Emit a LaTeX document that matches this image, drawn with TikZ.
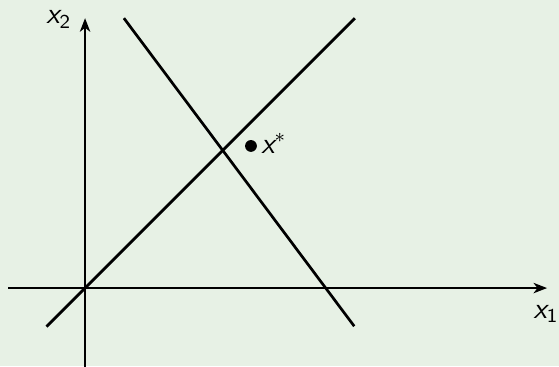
\documentclass[tikz,border=0pt]{standalone}
\usepackage{tikz}
\usetikzlibrary{arrows.meta, positioning}
\definecolor{blockbg}{RGB}{231,241,229}
\newcommand{\vx}[1]{{\sffamily\itshape x}\textsubscript{\sffamily #1}}
\tikzset{
    axis/.style={line width=0.85pt, -{Stealth[length=5.5pt, width=4.2pt, inset=1.6pt]}},
    constraint/.style={line width=1.1pt},
    axlabel/.style={font=\fontsize{12}{14}\selectfont, inner sep=1pt}
}

\begin{document}
\begin{tikzpicture}[x=0.5cm, y=0.5cm]

    % Background
    \fill[blockbg] (-2.43,-2.23) rectangle (13.54,8.23);
    \useasboundingbox (-2.43,-2.23) rectangle (13.54,8.23);

    % Axes
    \coordinate (origin) at (0,0);
    \coordinate (xstart) at (-2.2,0);
    \coordinate (xend) at (13.2,0);
    \coordinate (ystart) at (0,-2.3);
    \coordinate (yend) at (0,7.71);
    \draw[axis] (xstart) -- (xend);
    \draw[axis] (ystart) -- (yend);
    \node[axlabel] (lbl_x1) at (13.17,-0.74) {\vx{1}};
    \node[axlabel] (lbl_x2) at (-0.75,7.68) {\vx{2}};

    % Constraint lines
    \coordinate (c1_a) at (-1.1,-1.1);
    \coordinate (c1_b) at (7.71,7.71);
    \coordinate (c2_a) at (1.11,7.71);
    \coordinate (c2_b) at (7.69,-1.09);
    \draw[constraint] (c1_a) -- (c1_b);
    \draw[constraint] (c2_a) -- (c2_b);

    % Optimum
    \fill (4.74,4.06) circle (2.4pt) coordinate (xstar);
    \node[axlabel, right=3pt of xstar, yshift=1pt] (lbl_xstar) {{\sffamily\itshape x}\textsuperscript{$\ast$}};

\end{tikzpicture}
\end{document}
